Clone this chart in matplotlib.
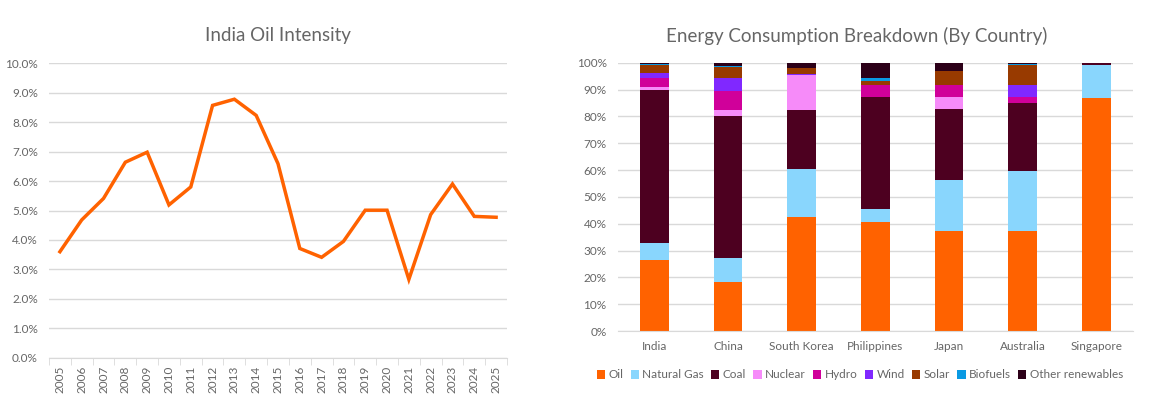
import numpy as np
import matplotlib
matplotlib.use("Agg")
import matplotlib.pyplot as plt
from matplotlib.ticker import PercentFormatter, FixedLocator

plt.rcParams['font.family'] = ['Lato', 'DejaVu Sans']

# left chart: India oil intensity (%)
years = [str(y) for y in range(2005, 2026)]
oil_intensity = [3.60, 4.68, 5.41, 6.64, 6.98, 5.19, 5.80, 8.57, 8.78, 8.23, 6.59,
                 3.71, 3.41, 3.95, 5.01, 5.01, 2.66, 4.86, 5.90, 4.80, 4.77]

# right chart: energy consumption shares (%)
countries = ['India', 'China', 'South Korea', 'Philippines', 'Japan', 'Australia', 'Singapore']
sources = ['Oil', 'Natural Gas', 'Coal', 'Nuclear', 'Hydro', 'Wind', 'Solar', 'Biofuels',
           'Other renewables']
oil = [26.5, 18.3, 42.5, 40.6, 37.3, 37.3, 86.8]
gas = [6.3, 8.9, 17.9, 4.9, 19.0, 22.3, 12.3]
coal = [57.0, 52.9, 22.0, 41.7, 26.4, 25.4, 0.9]
nuclear = [1.1, 2.3, 13.0, 0.0, 4.5, 0.0, 0.0]
hydro = [3.4, 6.9, 0.2, 4.4, 4.4, 2.2, 0.0]
wind = [1.7, 5.0, 0.3, 0.2, 0.2, 4.5, 0.0]
solar = [3.1, 4.1, 2.1, 1.4, 5.1, 7.4, 0.0]
biofuels = [0.4, 0.5, 0.0, 1.1, 0.1, 0.4, 0.0]
other = [0.5, 1.1, 2.0, 5.7, 3.0, 0.5, 0.0]

colors = ['#FF6200', '#89D6FD', '#4D0020', '#F68BF9', '#D0009A', '#8028FF', '#983A00',
          '#0A9AE3', '#2C0018']
grey = '#666666'
grid_c = '#d9d9d9'

fig = plt.figure(figsize=(11.52, 4.09), dpi=100)
W, H = 1152, 409

def px_axes(x0, y0, x1, y1):
    return fig.add_axes([x0 / W, 1 - y1 / H, (x1 - x0) / W, (y1 - y0) / H])

# ---- left chart
ax1 = px_axes(49, 63.3, 507, 357.7)
x = np.arange(len(years))
ax1.plot(x, oil_intensity, color='#FF6200', lw=2.5, solid_joinstyle='miter')
ax1.set_xlim(-0.5, len(years) - 0.5)
ax1.set_ylim(0, 10)
ax1.set_yticks(np.arange(0, 11, 1))
ax1.yaxis.set_major_formatter(PercentFormatter(decimals=1))
ax1.set_xticks(x)
ax1.set_xticklabels(years, rotation=90)
ax1.xaxis.set_minor_locator(FixedLocator(np.arange(-0.5, len(years), 1)))
ax1.tick_params(axis='x', which='major', length=0, pad=6)
ax1.tick_params(axis='x', which='minor', length=5, color=grid_c)
ax1.tick_params(axis='y', length=0, pad=8)
ax1.grid(axis='y', color=grid_c, lw=1)
ax1.set_axisbelow(True)
for s in ['top', 'right', 'left']:
    ax1.spines[s].set_visible(False)
ax1.spines['bottom'].set_color(grid_c)
for lab in ax1.get_xticklabels() + ax1.get_yticklabels():
    lab.set_color(grey)
    lab.set_fontsize(8.5)
fig.text(278 / W, 1 - 36 / H, 'India Oil Intensity', ha='center', va='center',
         fontsize=13.5, color=grey)

# ---- right chart
ax2 = px_axes(617.7, 62.7, 1133, 331)
xb = np.arange(len(countries))
stack = [oil, gas, coal, nuclear, hydro, wind, solar, biofuels, other]
bottom = np.zeros(len(countries))
for name, vals, c in zip(sources, stack, colors):
    v = np.array(vals)
    ax2.bar(xb, v, 0.39, bottom=bottom, color=c, label=name)
    bottom += v
ax2.set_xlim(-0.5, len(countries) - 0.5)
ax2.set_ylim(0, 100)
ax2.set_yticks(np.arange(0, 101, 10))
ax2.yaxis.set_major_formatter(PercentFormatter(decimals=0))
ax2.set_xticks(xb)
ax2.set_xticklabels(countries)
ax2.tick_params(axis='x', length=0, pad=7)
ax2.tick_params(axis='y', length=0, pad=8)
ax2.grid(axis='y', color=grid_c, lw=1)
ax2.set_axisbelow(True)
for s in ['top', 'right', 'left']:
    ax2.spines[s].set_visible(False)
ax2.spines['bottom'].set_color(grid_c)
for lab in ax2.get_xticklabels() + ax2.get_yticklabels():
    lab.set_color(grey)
    lab.set_fontsize(8.5)
fig.text(857 / W, 1 - 36 / H, 'Energy Consumption Breakdown (By Country)', ha='center',
         va='center', fontsize=13.5, color=grey)

leg = fig.legend(loc='center', bbox_to_anchor=(860 / W, 1 - 375 / H), ncol=9, frameon=False,
                 fontsize=8.5, handlelength=0.7, handleheight=0.7, handletextpad=0.3,
                 columnspacing=0.6, labelcolor=grey)

fig.savefig('out.png', dpi=100)
